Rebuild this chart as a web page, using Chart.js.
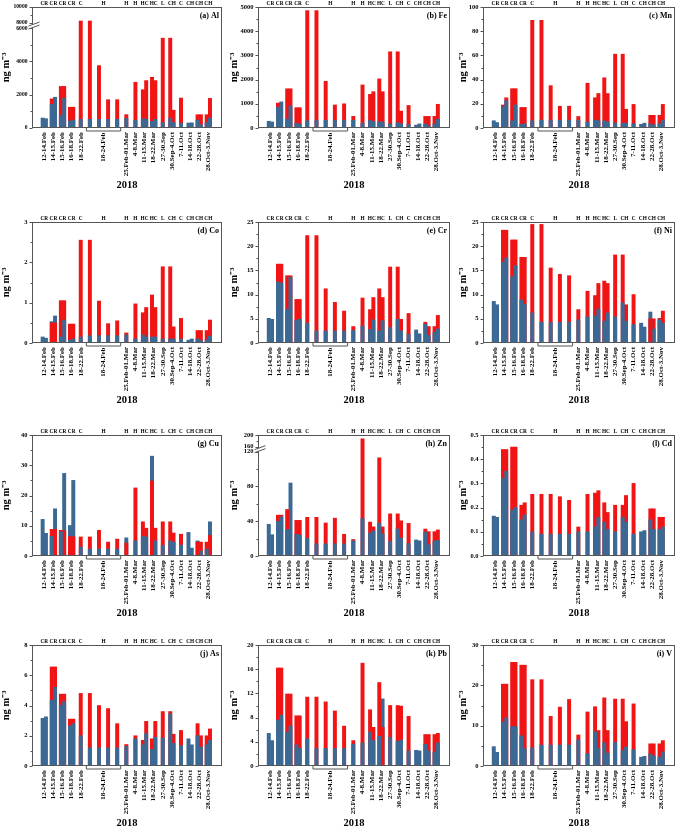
<!DOCTYPE html>
<html>
<head>
<meta charset="utf-8">
<script src="https://cdn.jsdelivr.net/npm/chart.js@4.4.1/dist/chart.umd.min.js"></script>
<style>
    html, body { margin: 0; padding: 0; background: #fff; overflow: hidden; }
    #wrap { position: relative; width: 676px; height: 829px; }
    canvas { position: absolute; }
</style>
</head>
<body>
<div id="wrap"></div>
<script>
// sampling periods (one slot each), slots 5-8 share the bracketed label
const slotLabels = ["12-14.Feb", "14-15.Feb", "15-16.Feb", "16-18.Feb", "18-22.Feb", "", "", "", "",
    "25.Feb-01.Mar", "4-8.Mar", "11-15.Mar", "18-22.Mar", "27-30.Sep", "30.Sep-4.Oct", "7-11.Oct",
    "14-18.Oct", "22-28.Oct", "28.Oct-3.Nov"];
const seasonLabels = ["CR", "CR", "CR", "CR", "C", "", "", "", "", "H", "H", "HC", "HC", "L", "CH", "C", "CH", "CH", "CH"];
const groupLabel = "18-24.Feb";
const groupSeason = "H";
const groupFirst = 5, groupLast = 8;
const n = null;

// first bar of each period (blue / red) and second bar (null where there is only one bar)
const alBlue1 = [600, 1420, 750, 420, 520, 520, 520, 520, 520, 580, 460, 550, 400, 330, 580, 280, 300, 480, 320];
const alRed1 = [0, 1750, 2500, 1250, 8250, 8250, 3750, 1700, 1700, 800, 2750, 2300, 3050, 5400, 5400, 1800, 0, 800, 800];
const alBlue2 = [560, 1850, 1800, 480, n, n, n, n, n, n, n, 540, 520, n, 320, n, 310, 200, 600];
const alRed2 = [0, 0, 2500, 1250, n, n, n, n, n, n, n, 2850, 2850, n, 1070, n, 0, 800, 1780];

const feBlue1 = [280, 850, 370, 200, 300, 320, 320, 320, 320, 320, 200, 320, 250, 170, 220, 150, 120, 170, 170];
const feRed1 = [0, 1030, 1620, 840, 4850, 4850, 1930, 950, 1000, 480, 1780, 1390, 2030, 3150, 3150, 930, 0, 480, 480];
const feBlue2 = [250, 1080, 920, 160, n, n, n, n, n, n, n, 270, 250, n, 180, n, 170, 90, 360];
const feRed2 = [0, 0, 1620, 840, n, n, n, n, n, n, n, 1500, 1500, n, 700, n, 0, 480, 980];

const mnBlue1 = [6, 17.5, 6, 3, 6, 6.5, 6.5, 6.5, 6.5, 6.5, 5, 6.5, 6, 4, 4, 3.5, 3, 3.5, 3.5];
const mnRed1 = [0, 19, 32.5, 17, 89, 89, 35, 18, 18, 9.5, 37, 25, 41.5, 61, 61, 19.5, 0, 10.5, 10.5];
const mnBlue2 = [4.5, 22.5, 19, 3.5, n, n, n, n, n, n, n, 6, 5, n, 4, n, 4, 2.5, 6.5];
const mnRed2 = [0, 25, 32.5, 17, n, n, n, n, n, n, n, 28.5, 28.5, n, 15.5, n, 0, 10.5, 19.5];

const coBlue1 = [0.15, 0.53, 0.15, 0.07, 0.15, 0.18, 0.18, 0.18, 0.18, 0.2, 0.1, 0.2, 0.15, 0.1, 0.1, 0.1, 0.07, 0.1, 0.08];
const coRed1 = [0, 0.5, 1.05, 0.47, 2.55, 2.55, 1.04, 0.48, 0.55, 0.25, 0.97, 0.75, 1.19, 1.89, 1.89, 0.61, 0, 0.31, 0.31];
const coBlue2 = [0.12, 0.67, 0.57, 0.1, n, n, n, n, n, n, n, 0.15, 0.15, n, 0.1, n, 0.1, 0.06, 0.17];
const coRed2 = [0, 0.5, 1.05, 0.47, n, n, n, n, n, n, n, 0.88, 0.88, n, 0.4, n, 0, 0.31, 0.57];

const crBlue1 = [5.1, 12.6, 7, 4.7, 4.1, 2.5, 2.5, 2.5, 2.5, 2.6, 3.5, 2.8, 2.5, 3.2, 4.9, 1.8, 2.7, 3.9, 2.2];
const crRed1 = [0, 16.3, 13.9, 9, 22.2, 22.2, 11.2, 8.4, 6.6, 3.4, 9.3, 6.9, 11.2, 15.7, 15.7, 6.1, 0, 4.3, 3.4];
const crBlue2 = [4.9, 12.4, 13.6, 4.9, n, n, n, n, n, n, n, 4.8, 4.6, n, 2.5, n, 1.9, 1.6, 2.9];
const crRed2 = [0, 16.3, 13.9, 9, n, n, n, n, n, n, n, 9.4, 9.4, n, 4.9, n, 0, 3.4, 5.7];

const niBlue1 = [8.6, 16.7, 13.7, 8.9, 6.2, 4.3, 4.3, 4.3, 4.3, 4.8, 5.4, 5.6, 4.5, 5.4, 8.3, 3.8, 4.1, 6.4, 4.8];
const niRed1 = [0, 23.3, 21.3, 17.7, 24.5, 24.5, 15.5, 14.2, 13.9, 6.9, 10.7, 9.8, 12.8, 18.2, 18.2, 10, 0, 5, 5.1];
const niBlue2 = [7.9, 17.6, 16, 8, n, n, n, n, n, n, n, 7, 6.2, n, 4.5, n, 3.3, 2.9, 4.1];
const niRed2 = [0, 23.3, 21.3, 17.7, n, n, n, n, n, n, n, 12.3, 12.3, n, 7.9, n, 0, 5, 6.6];

const cuBlue1 = [12.1, 6.5, 8, 10.1, 3, 2.3, 2.3, 2.3, 2.3, 6, 5, 6.5, 33, 3.5, 5, 3.6, 7.8, 5, 2.3];
const cuRed1 = [0, 8.8, 8.5, 6.4, 6.3, 6.3, 8.5, 4.6, 5.6, 4.3, 22.5, 11.3, 24.8, 11.3, 11.3, 7.2, 0, 4.6, 4.6];
const cuBlue2 = [7.5, 15.6, 27.3, 25, n, n, n, n, n, n, n, 6.3, 5, n, 4.6, n, 2.6, 1.6, 11.3];
const cuRed2 = [0, 8.8, 8.3, 6.4, n, n, n, n, n, n, n, 9.2, 9.2, n, 7.6, n, 0, 4.6, 6.8];

const znBlue1 = [36.5, 40, 30.5, 25, 20.5, 14, 14, 14, 14, 17.5, 43, 26.5, 38, 17, 31, 14.5, 18.5, 27.5, 17];
const znRed1 = [0, 47, 53.5, 41, 44.5, 44.5, 38, 43.5, 25, 19, 187, 39, 113, 48.5, 48.5, 37.5, 0, 31, 28];
const znBlue2 = [24.5, 45, 84, 24, n, n, n, n, n, n, n, 29, 25.5, n, 20.5, n, 17.5, 13, 18];
const znRed2 = [0, 47, 0, 41, n, n, n, n, n, n, n, 33.5, 33.5, n, 40.5, n, 0, 28, 30];

const cdBlue1 = [0.165, 0.32, 0.19, 0.15, 0.1, 0.09, 0.09, 0.09, 0.09, 0.1, 0.1, 0.12, 0.14, 0.1, 0.16, 0.09, 0.1, 0.15, 0.11];
const cdRed1 = [0, 0.44, 0.45, 0.21, 0.255, 0.255, 0.255, 0.245, 0.23, 0.12, 0.255, 0.26, 0.22, 0.21, 0.21, 0.3, 0, 0.195, 0.16];
const cdBlue2 = [0.16, 0.35, 0.2, 0.17, n, n, n, n, n, n, n, 0.16, 0.11, n, 0.14, n, 0.105, 0.11, 0.12];
const cdRed2 = [0, 0.44, 0.45, 0.22, n, n, n, n, n, n, n, 0.27, 0.18, n, 0.25, n, 0, 0.195, 0.16];

const asBlue1 = [3.15, 4.35, 4, 2.65, 2, 1.2, 1.2, 1.2, 1.2, 1.3, 1.8, 1.4, 1.1, 1.85, 3.45, 1.35, 1.8, 2, 1.4];
const asRed1 = [0, 6.55, 4.75, 3.1, 4.8, 4.8, 4, 3.8, 2.8, 1.42, 2, 1.7, 1.8, 3.6, 3.6, 2.35, 0, 2.8, 2];
const asBlue2 = [3.25, 5.2, 4.25, 2.8, n, n, n, n, n, n, n, 2.15, 1.9, n, 1.5, n, 1.4, 1.25, 1.7];
const asRed2 = [0, 6.55, 4.75, 3.1, n, n, n, n, n, n, n, 2.95, 2.95, n, 2.1, n, 0, 2, 2.45];

const pbBlue1 = [5.4, 7.6, 5.6, 3.5, 4.5, 2.9, 2.9, 2.9, 2.9, 3.6, 3.8, 5.6, 4.9, 4.7, 4.1, 2.5, 2.6, 3.6, 2.3];
const pbRed1 = [0, 16.2, 11.9, 8.3, 11.4, 11.4, 10.6, 9.1, 6.6, 4.2, 17, 9.3, 13.8, 10, 10, 8.2, 0, 5.2, 5.2];
const pbBlue2 = [4.2, 8.4, 6.6, 2.9, n, n, n, n, n, n, n, 4.2, 11.1, n, 4.3, n, 2.5, 2.5, 3.8];
const pbRed2 = [0, 16.2, 11.9, 8.3, n, n, n, n, n, n, n, 6.4, 6.4, n, 9.9, n, 0, 5.2, 5.4];

const vBlue1 = [4.8, 10.9, 9.8, 7.5, 4.5, 5.2, 5.2, 5.2, 5.2, 6.5, 3.1, 8.5, 5.8, 5.9, 3.8, 4, 2.2, 3, 2.2];
const vRed1 = [0, 20.3, 25.7, 25, 21.4, 21.4, 12.3, 14.6, 16.5, 7.7, 13.4, 14.7, 16.9, 16.6, 16.6, 15.4, 0, 5.5, 5.5];
const vBlue2 = [3.4, 11.9, 9.8, 4.3, n, n, n, n, n, n, n, 4.4, 3.2, n, 4.7, n, 2.4, 2.5, 3.5];
const vRed2 = [0, 20.3, 25.7, 25, n, n, n, n, n, n, n, 8.8, 8.8, n, 11, n, 0, 5.5, 6.3];

// y tick labels
const alTicks = [0, 2000, 4000, 6000, 8000, 10000];
const feTicks = [0, 1000, 2000, 3000, 4000, 5000];
const mnTicks = [0, 20, 40, 60, 80, 100];
const coTicks = [0, 1, 2, 3];
const crTicks = [0, 5, 10, 15, 20, 25];
const niTicks = [0, 5, 10, 15, 20, 25];
const cuTicks = [0, 10, 20, 30, 40];
const znTicks = [0, 40, 80, 120, 160, 200];
const cdTicks = [0, 0.1, 0.2, 0.3, 0.4, 0.5];
const asTicks = [0, 2, 4, 6, 8];
const pbTicks = [0, 4, 8, 12, 16, 20];
const vTicks = [0, 10, 20, 30];

const BLUE = "#3c6894";
const RED = "#f01414";
const FRAME = "#555";
const SERIF = '"Liberation Serif", "Times New Roman", serif';

const panels = [
    { tag: "(a) Al", b1: alBlue1, r1: alRed1, b2: alBlue2, r2: alRed2, ticks: alTicks, brk: [6000, 8000], knots: [[0, 0], [6000, 0.825], [8000, 0.868], [10000, 1]], tickSize: 5.6 },
    { tag: "(b) Fe", b1: feBlue1, r1: feRed1, b2: feBlue2, r2: feRed2, ticks: feTicks },
    { tag: "(c) Mn", b1: mnBlue1, r1: mnRed1, b2: mnBlue2, r2: mnRed2, ticks: mnTicks },
    { tag: "(d) Co", b1: coBlue1, r1: coRed1, b2: coBlue2, r2: coRed2, ticks: coTicks },
    { tag: "(e) Cr", b1: crBlue1, r1: crRed1, b2: crBlue2, r2: crRed2, ticks: crTicks },
    { tag: "(f) Ni", b1: niBlue1, r1: niRed1, b2: niBlue2, r2: niRed2, ticks: niTicks },
    { tag: "(g) Cu", b1: cuBlue1, r1: cuRed1, b2: cuBlue2, r2: cuRed2, ticks: cuTicks },
    { tag: "(h) Zn", b1: znBlue1, r1: znRed1, b2: znBlue2, r2: znRed2, ticks: znTicks, brk: [120, 160], knots: [[0, 0], [120, 0.862], [160, 0.904], [200, 1]] },
    { tag: "(l) Cd", b1: cdBlue1, r1: cdRed1, b2: cdBlue2, r2: cdRed2, ticks: cdTicks, decimals: 1 },
    { tag: "(j) As", b1: asBlue1, r1: asRed1, b2: asBlue2, r2: asRed2, ticks: asTicks },
    { tag: "(k) Pb", b1: pbBlue1, r1: pbRed1, b2: pbBlue2, r2: pbRed2, ticks: pbTicks },
    { tag: "(i) V", b1: vBlue1, r1: vRed1, b2: vBlue2, r2: vRed2, ticks: vTicks }
];

// layout of the 4x3 grid
const plotTops = [7, 222, 435, 645];
const plotLefts = [32, 258, 483];
const plotWidths = [190, 192, 192];
const yAxisWidths = [32, 30, 26];
const PLOT_H = 121, PAD_TOP = 9, X_AXIS_H = 64;

/* ================= Y AXIS WITH A BREAK ================= */
class BrokenScale extends Chart.LinearScale {
    _frac(value) {
        const k = this.options.knots;
        for (let i = 1; i < k.length; i++) {
            if (value <= k[i][0] || i === k.length - 1) {
                return k[i - 1][1] + (value - k[i - 1][0]) / (k[i][0] - k[i - 1][0]) * (k[i][1] - k[i - 1][1]);
            }
        }
        return 0;
    }
    getPixelForValue(value) {
        if (value === null || value === undefined || isNaN(value)) return NaN;
        return this.getPixelForDecimal(this._frac(value));
    }
    getValueForPixel(pixel) {
        const d = this.getDecimalForPixel(pixel);
        const k = this.options.knots;
        for (let i = 1; i < k.length; i++) {
            if (d <= k[i][1] || i === k.length - 1) {
                return k[i - 1][0] + (d - k[i - 1][1]) / (k[i][1] - k[i - 1][1]) * (k[i][0] - k[i - 1][0]);
            }
        }
        return 0;
    }
}
BrokenScale.id = "broken";
BrokenScale.defaults = {};
Chart.register(BrokenScale);

// overlapping bars: the smaller value is drawn in front of the larger one
function layers(blue, red, stack) {
    const lo = blue.map((b, i) => b == null ? null : Math.min(b, red[i]));
    const hi = blue.map((b, i) => b == null ? null : Math.max(b, red[i]));
    const loCol = blue.map((b, i) => (b != null && b <= red[i]) ? BLUE : RED);
    const hiCol = blue.map((b, i) => (b != null && b <= red[i]) ? RED : BLUE);
    return [
        { data: lo, backgroundColor: loCol, stack: stack, order: 0 },
        { data: hi, backgroundColor: hiCol, stack: stack, order: 1 }
    ];
}

function makeDecor(p) {
    return {
        id: "decor",
        afterDraw(chart) {
            const { ctx, chartArea: a, scales: { x, y } } = chart;
            ctx.save();
            ctx.strokeStyle = FRAME;
            ctx.lineWidth = 1;
            const L = Math.round(a.left) + 0.5, T = Math.round(a.top) + 0.5;
            const R = Math.round(a.right) - 0.5, B = Math.round(a.bottom) - 0.5;
            ctx.strokeRect(L, T, R - L, B - T);

            // major and minor ticks with their labels
            ctx.beginPath();
            for (let i = 0; i < p.ticks.length; i++) {
                const yy = Math.round(y.getPixelForValue(p.ticks[i])) + 0.5;
                ctx.moveTo(L - 3, yy);
                ctx.lineTo(L, yy);
                if (i === p.ticks.length - 1 || (p.brk && p.ticks[i] === p.brk[0])) continue;
                const ym = Math.round(y.getPixelForValue((p.ticks[i] + p.ticks[i + 1]) / 2)) + 0.5;
                ctx.moveTo(L - 2, ym);
                ctx.lineTo(L, ym);
            }
            ctx.stroke();

            ctx.fillStyle = "#000";
            ctx.font = "bold " + (p.tickSize || 6.5) + "px " + SERIF;
            ctx.textAlign = "right";
            ctx.textBaseline = "middle";
            p.ticks.forEach(v => {
                const txt = p.decimals ? v.toFixed(p.decimals) : String(v);
                ctx.fillText(txt, L - 5, y.getPixelForValue(v));
            });

            // axis break mark
            if (p.brk) {
                const yb = (y.getPixelForValue(p.brk[0]) + y.getPixelForValue(p.brk[1])) / 2;
                ctx.fillStyle = "#fff";
                ctx.beginPath();
                ctx.moveTo(L - 4, yb + 3.5);
                ctx.lineTo(L + 7, yb - 0.5);
                ctx.lineTo(L + 7, yb - 3.5);
                ctx.lineTo(L - 4, yb + 0.5);
                ctx.closePath();
                ctx.fill();
                ctx.beginPath();
                ctx.moveTo(L - 4, yb + 3.5);
                ctx.lineTo(L + 7, yb - 0.5);
                ctx.moveTo(L - 4, yb + 0.5);
                ctx.lineTo(L + 7, yb - 3.5);
                ctx.stroke();
                ctx.fillStyle = "#000";
            }

            // season codes above the frame
            ctx.font = "bold 5.3px " + SERIF;
            ctx.textAlign = "center";
            ctx.textBaseline = "alphabetic";
            seasonLabels.forEach((s, i) => {
                if (s) ctx.fillText(s, x.getPixelForValue(i), a.top - 2);
            });
            const gx = (x.getPixelForValue(groupFirst) + x.getPixelForValue(groupLast)) / 2;
            ctx.fillText(groupSeason, gx, a.top - 2);

            // bracket below the grouped period
            const bl = x.getPixelForValue(groupFirst) - 3.5;
            const br = x.getPixelForValue(groupLast) + 3.5;
            const by = B + 3.5;
            ctx.beginPath();
            ctx.moveTo(bl, B);
            ctx.lineTo(bl, by);
            ctx.lineTo(br, by);
            ctx.lineTo(br, B);
            ctx.stroke();

            ctx.save();
            ctx.font = "bold 7px " + SERIF;
            ctx.translate(gx, B + 5);
            ctx.rotate(-Math.PI / 2);
            ctx.textAlign = "right";
            ctx.textBaseline = "middle";
            ctx.fillText(groupLabel, 0, 0);
            ctx.restore();

            // panel tag
            ctx.font = "bold 8px " + SERIF;
            ctx.textAlign = "right";
            ctx.textBaseline = "middle";
            ctx.fillText(p.tag, a.right - 3, a.top + 8.5);
            ctx.restore();
        }
    };
}

const wrap = document.getElementById("wrap");

panels.forEach((p, idx) => {
    const row = Math.floor(idx / 3), col = idx % 3;
    const yw = yAxisWidths[col];
    const canvas = document.createElement("canvas");
    const W = yw + plotWidths[col] + 2;
    const H = PAD_TOP + PLOT_H + X_AXIS_H;
    canvas.width = W;
    canvas.height = H;
    canvas.style.width = W + "px";
    canvas.style.height = H + "px";
    canvas.style.left = (plotLefts[col] - yw) + "px";
    canvas.style.top = (plotTops[row] - PAD_TOP) + "px";
    wrap.appendChild(canvas);

    const yScale = {
        type: p.knots ? "broken" : "linear",
        min: 0,
        max: p.ticks[p.ticks.length - 1],
        stacked: false,
        afterBuildTicks: s => { s.ticks = p.ticks.map(v => ({ value: v })); },
        afterFit: s => { s.width = yw; },
        grid: { display: false, drawTicks: false },
        border: { display: false },
        ticks: { display: false },
        title: {
            display: true,
            text: "ng m\u207B\u00B3",
            color: "#000",
            padding: 0,
            font: { family: SERIF, size: 10.5, weight: "bold" }
        }
    };
    if (p.knots) yScale.knots = p.knots;

    new Chart(canvas.getContext("2d"), {
        type: "bar",
        data: {
            labels: slotLabels.map((_, i) => i),
            datasets: [...layers(p.b1, p.r1, "a"), ...layers(p.b2, p.r2, "b")]
        },
        options: {
            responsive: false,
            animation: false,
            devicePixelRatio: 1,
            layout: { padding: { top: PAD_TOP, right: 2, left: 0, bottom: 0 } },
            datasets: { bar: { barThickness: 3.3, borderWidth: 0, skipNull: true } },
            plugins: { legend: { display: false }, tooltip: { enabled: false } },
            scales: {
                x: {
                    type: "linear",
                    min: -0.8,
                    max: 18.95,
                    stacked: true,
                    afterBuildTicks: s => { s.ticks = slotLabels.map((_, i) => ({ value: i })); },
                    afterFit: s => { s.height = X_AXIS_H; },
                    grid: { display: false, drawTicks: false },
                    border: { display: false },
                    ticks: {
                        autoSkip: false,
                        minRotation: 90,
                        maxRotation: 90,
                        padding: 4,
                        color: "#000",
                        font: { family: SERIF, size: 7, weight: "bold" },
                        callback: v => slotLabels[v] || ""
                    },
                    title: {
                        display: true,
                        text: "2018",
                        color: "#000",
                        padding: 0,
                        font: { family: SERIF, size: 10.5, weight: "bold" }
                    }
                },
                y: yScale
            }
        },
        plugins: [makeDecor(p)]
    });
});
</script>
</body>
</html>
